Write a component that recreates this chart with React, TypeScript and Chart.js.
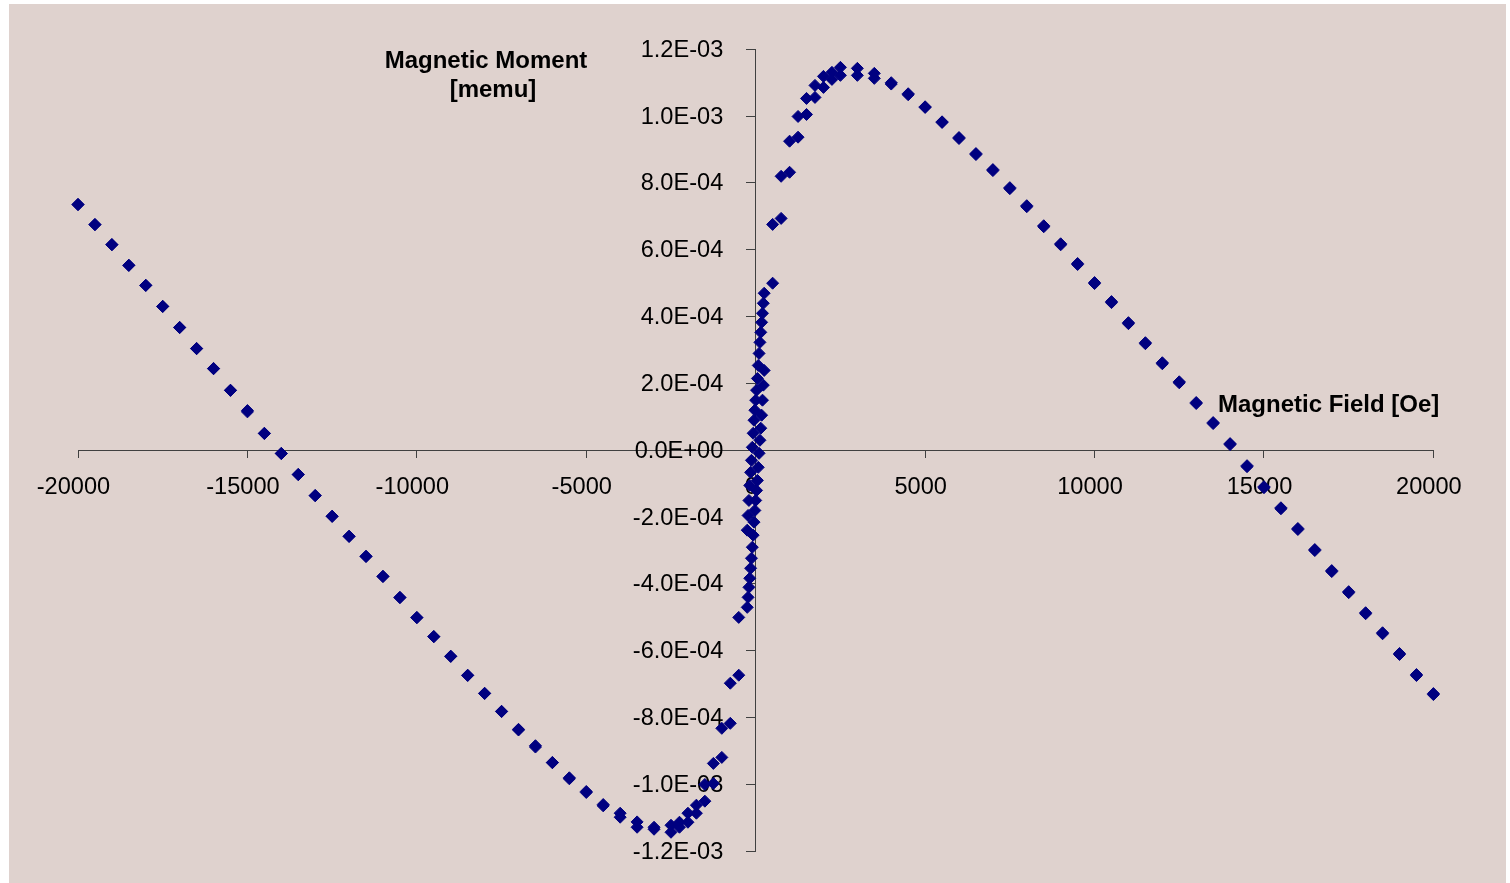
import React, { useEffect, useRef } from "react";
import { Chart, registerables } from "chart.js";

Chart.register(...registerables);

// Applied field [Oe] (same field steps for both sweep branches)
const fieldOe = [
  -20000, -19500, -19000, -18500, -18000, -17500, -17000, -16500, -16000, -15500,
  -15000, -14500, -14000, -13500, -13000, -12500, -12000, -11500, -11000, -10500,
  -10000, -9500, -9000, -8500, -8000, -7500, -7000, -6500, -6000, -5500,
  -5000, -4500, -4000, -3500, -3000,
  -2500, -2250, -2000, -1750, -1500, -1250, -1000, -750, -500,
  -250, -225, -200, -175, -150, -125, -100, -75, -50, -25, 0,
  25, 50, 75, 100, 125, 150, 175, 200, 225, 250,
  500, 750, 1000, 1250, 1500, 1750, 2000, 2250, 2500,
  3000, 3500, 4000, 4500, 5000, 5500, 6000, 6500, 7000, 7500,
  8000, 8500, 9000, 9500, 10000, 10500, 11000, 11500, 12000, 12500,
  13000, 13500, 14000, 14500, 15000, 15500, 16000, 16500, 17000, 17500,
  18000, 18500, 19000, 19500, 20000,
];

// Moment on the descending sweep (+20000 -> -20000)
const momentDescending = [
  7.36e-4, 6.76e-4, 6.16e-4, 5.54e-4, 4.94e-4, 4.31e-4, 3.68e-4, 3.05e-4, 2.45e-4, 1.8e-4,
  1.19e-4, 0.51e-4, -0.09e-4, -0.72e-4, -1.35e-4, -1.97e-4, -2.57e-4, -3.17e-4, -3.77e-4, -4.4e-4,
  -5.0e-4, -5.57e-4, -6.16e-4, -6.73e-4, -7.27e-4, -7.81e-4, -8.35e-4, -8.84e-4, -9.34e-4, -9.8e-4,
  -10.21e-4, -10.6e-4, -10.86e-4, -11.12e-4, -11.28e-4,
  -11.22e-4, -11.13e-4, -10.86e-4, -10.62e-4, -10.0e-4, -9.37e-4, -8.32e-4, -6.97e-4, -5.0e-4,
  -2.39e-4, -1.95e-4, -1.5e-4, -1.05e-4, -0.66e-4, -0.3e-4, 0.09e-4, 0.51e-4, 0.9e-4, 1.2e-4, 1.5e-4,
  1.8e-4, 2.15e-4, 2.54e-4, 2.9e-4, 3.23e-4, 3.53e-4, 3.83e-4, 4.1e-4, 4.4e-4, 4.7e-4,
  6.76e-4, 8.2e-4, 9.25e-4, 9.99e-4, 10.53e-4, 10.92e-4, 11.19e-4, 11.31e-4, 11.46e-4,
  11.43e-4, 11.28e-4, 11.0e-4, 10.67e-4, 10.28e-4, 9.83e-4, 9.36e-4, 8.88e-4, 8.4e-4, 7.86e-4,
  7.32e-4, 6.72e-4, 6.18e-4, 5.59e-4, 5.02e-4, 4.45e-4, 3.82e-4, 3.22e-4, 2.62e-4, 2.05e-4,
  1.43e-4, 0.83e-4, 0.2e-4, -0.46e-4, -1.09e-4, -1.72e-4, -2.34e-4, -2.97e-4, -3.6e-4, -4.23e-4,
  -4.86e-4, -5.46e-4, -6.08e-4, -6.71e-4, -7.28e-4,
];

// Moment on the ascending sweep (-20000 -> +20000)
const momentAscending = [
  7.35e-4, 6.75e-4, 6.15e-4, 5.53e-4, 4.93e-4, 4.3e-4, 3.67e-4, 3.04e-4, 2.44e-4, 1.79e-4,
  1.15e-4, 0.5e-4, -0.1e-4, -0.73e-4, -1.36e-4, -1.98e-4, -2.58e-4, -3.18e-4, -3.78e-4, -4.41e-4,
  -5.01e-4, -5.58e-4, -6.17e-4, -6.74e-4, -7.28e-4, -7.82e-4, -8.37e-4, -8.88e-4, -9.35e-4, -9.83e-4,
  -10.24e-4, -10.64e-4, -10.98e-4, -11.28e-4, -11.34e-4,
  -11.43e-4, -11.28e-4, -11.13e-4, -10.86e-4, -10.5e-4, -9.97e-4, -9.19e-4, -8.17e-4, -6.73e-4,
  -4.7e-4, -4.4e-4, -4.1e-4, -3.83e-4, -3.53e-4, -3.23e-4, -2.9e-4, -2.54e-4, -2.15e-4, -1.8e-4, -1.5e-4,
  -1.2e-4, -0.9e-4, -0.51e-4, -0.09e-4, 0.3e-4, 0.66e-4, 1.05e-4, 1.5e-4, 1.95e-4, 2.39e-4,
  5.0e-4, 6.94e-4, 8.32e-4, 9.37e-4, 10.05e-4, 10.56e-4, 10.86e-4, 11.1e-4, 11.22e-4,
  11.22e-4, 11.13e-4, 10.96e-4, 10.64e-4, 10.26e-4, 9.81e-4, 9.33e-4, 8.85e-4, 8.37e-4, 7.83e-4,
  7.29e-4, 6.69e-4, 6.15e-4, 5.56e-4, 4.99e-4, 4.42e-4, 3.79e-4, 3.19e-4, 2.59e-4, 2.02e-4,
  1.4e-4, 0.8e-4, 0.17e-4, -0.49e-4, -1.12e-4, -1.75e-4, -2.37e-4, -3.0e-4, -3.63e-4, -4.26e-4,
  -4.89e-4, -5.49e-4, -6.11e-4, -6.74e-4, -7.31e-4,
];

const xTicks = [-20000, -15000, -10000, -5000, 0, 5000, 10000, 15000, 20000];
const yTicks = [-1.2e-3, -1.0e-3, -8e-4, -6e-4, -4e-4, -2e-4, 0, 2e-4, 4e-4, 6e-4, 8e-4, 1.0e-3, 1.2e-3];
const yTitleLines = ["Magnetic Moment", "[memu]"];
const xTitleText = "Magnetic Field [Oe]";

const FONT = '"Liberation Sans", Arial, Helvetica, sans-serif';
const AXIS = "#404040";
const MARK = "#000080";
const BG = "#DFD2CE";
const W = 1497;
const H = 879;
const TICK_FONT_SIZE = 23.6;
const Y_TICK_LEN = 9;
const Y_LABEL_GAP = 23.4;

function fmtExp(v: number): string {
  const [m, e] = Number(v).toExponential(1).split("e");
  const sign = e.startsWith("-") ? "-" : "+";
  const digits = e.replace(/[+-]/, "").padStart(2, "0");
  return `${m}E${sign}${digits}`;
}

// Titles are free-floating boxes in the original; y tick labels sit left of the
// y axis that crosses at x = 0 (read from the library's own scales).
const labelPlugin = {
  id: "freeLabels",
  beforeDatasetsDraw(chart: any) {
    const ctx = chart.ctx;
    const ys = chart.scales.y;
    const xs = chart.scales.x;
    ctx.save();
    ctx.fillStyle = "#000";
    ctx.font = `${TICK_FONT_SIZE}px ${FONT}`;
    ctx.textAlign = "right";
    ctx.textBaseline = "middle";
    const x0 = xs.getPixelForValue(0);
    for (const t of ys.ticks) {
      ctx.fillText(fmtExp(t.value), x0 - Y_TICK_LEN - Y_LABEL_GAP, ys.getPixelForValue(t.value) + 1);
    }
    ctx.font = `bold 24px ${FONT}`;
    ctx.textAlign = "center";
    ctx.fillText(yTitleLines[0], 477, 57);
    ctx.fillText(yTitleLines[1], 484, 86);
    ctx.textAlign = "left";
    ctx.fillText(xTitleText, 1209, 401);
    ctx.restore();
  },
};

export default function App() {
  const ref = useRef<HTMLCanvasElement | null>(null);

  useEffect(() => {
    if (!ref.current) return;
    const toPoints = (ys: number[]) => fieldOe.map((x, i) => ({ x, y: ys[i] }));
    const ds = (label: string, ys: number[]) => ({
      label,
      data: toPoints(ys),
      pointStyle: "rectRot",
      pointRadius: 6,
      borderWidth: 1,
      backgroundColor: MARK,
      borderColor: MARK,
      clip: false,
    });
    const chart = new Chart(ref.current, {
      type: "scatter",
      data: {
        datasets: [ds("descending", momentDescending), ds("ascending", momentAscending)],
      },
      options: {
        animation: false,
        responsive: false,
        maintainAspectRatio: false,
        layout: { padding: { left: 69, right: 72.6, top: 45.3, bottom: 31.7 } },
        plugins: { legend: { display: false }, tooltip: { enabled: false } },
        scales: {
          x: {
            type: "linear",
            position: { y: 0 } as any,
            min: -20000,
            max: 20000,
            afterBuildTicks: (s: any) => {
              s.ticks = xTicks.map((v) => ({ value: v }));
            },
            afterFit: (s: any) => {
              s.height = 0;
            },
            grid: { drawOnChartArea: false, drawTicks: true, tickLength: 7, color: AXIS, lineWidth: 1 },
            border: { display: true, color: AXIS, width: 1 },
            ticks: {
              color: "#000",
              font: { family: FONT, size: TICK_FONT_SIZE },
              padding: 16,
              labelOffset: -4.5,
              maxRotation: 0,
              minRotation: 0,
              autoSkip: false,
              callback: (v: any) => String(v),
            },
          },
          y: {
            type: "linear",
            position: { x: 0 } as any,
            min: -1.2e-3,
            max: 1.2e-3,
            afterBuildTicks: (s: any) => {
              s.ticks = yTicks.map((v) => ({ value: v }));
            },
            afterFit: (s: any) => {
              s.width = 0;
            },
            grid: { drawOnChartArea: false, drawTicks: true, tickLength: Y_TICK_LEN, color: AXIS, lineWidth: 1 },
            border: { display: true, color: AXIS, width: 1 },
            ticks: { display: false },
          },
        },
      },
      plugins: [labelPlugin],
    } as any);
    return () => chart.destroy();
  }, []);

  return (
    <div
      style={{
        position: "absolute",
        left: 9,
        top: 4,
        width: W,
        height: H,
        background: BG,
      }}
    >
      <canvas ref={ref} width={W} height={H} style={{ display: "block", width: W, height: H }} />
    </div>
  );
}
